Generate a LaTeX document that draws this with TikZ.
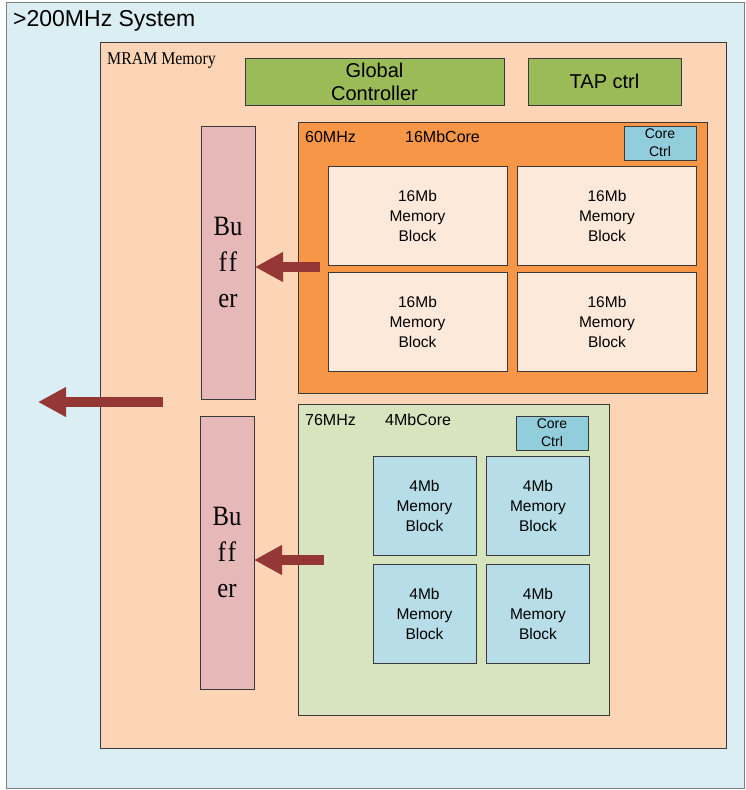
\documentclass[tikz,border=0pt]{standalone}
\usepackage{fontspec}
\setsansfont{Liberation Sans}
\newfontfamily\narrowserif[FakeStretch=0.88]{Liberation Serif}
\usepackage{tikz}
\usetikzlibrary{calc,arrows.meta}
\definecolor{sysbg}{HTML}{DBEEF4}
\definecolor{mrambg}{HTML}{FBD5B5}
\definecolor{ctrlgreen}{HTML}{9BBB59}
\definecolor{coreorange}{HTML}{F79646}
\definecolor{blockpeach}{HTML}{FDE9D9}
\definecolor{corectrl}{HTML}{92CDDC}
\definecolor{coregreen}{HTML}{D7E4BD}
\definecolor{blockblue}{HTML}{B7DEE8}
\definecolor{bufpink}{HTML}{E6B9B8}
\definecolor{arrowred}{HTML}{953735}
\definecolor{edge}{HTML}{3A3A3A}
\tikzset{
  box/.style={draw=edge, line width=0.9pt, inner sep=0pt, outer sep=0pt},
  sysbox/.style={box, draw=gray, fill=sysbg},
  ctrlbox/.style={box, fill=ctrlgreen, align=center, font=\sffamily\fontsize{20}{23}\selectfont},
  bufbox/.style={box, fill=bufpink, align=center, font=\narrowserif\fontsize{28}{36}\selectfont},
  ccbox/.style={box, fill=corectrl, align=center, font=\sffamily\fontsize{14}{18}\selectfont},
  blk/.style={box, align=center, font=\sffamily\fontsize{15.5}{20}\selectfont},
  tag/.style={anchor=west, inner sep=0pt, font=\sffamily\fontsize{16}{18}\selectfont},
  flow/.style={draw=arrowred, line width=10pt, -{Triangle[length=28pt,width=28pt]}},
}
\begin{document}
\begin{tikzpicture}[x=1pt,y=-1pt]
  \useasboundingbox (0,0) rectangle (746,790);

  \node[sysbox, minimum width=738pt, minimum height=786pt] (sys) at (375,395) {};
  \node[anchor=west, inner sep=0pt, font=\sffamily\fontsize{23}{26}\selectfont] (systxt) at (13,21) {>200MHz System};

  \node[box, fill=mrambg, minimum width=626pt, minimum height=706pt] (mram) at (413,395) {};
  \node[anchor=west, inner sep=0pt, font=\narrowserif\fontsize{18}{20}\selectfont] (mramtxt) at (107,60) {MRAM Memory};

  \node[ctrlbox, minimum width=259pt, minimum height=47pt] (glob) at (374.5,81.5) {Global\\Controller};
  \node[ctrlbox, minimum width=153pt, minimum height=47pt] (tap) at (604.5,81.5) {TAP ctrl};

  \node[bufbox, minimum width=54pt, minimum height=273pt] (bufA) at (228,262.5) {Bu\\f\hspace{2pt}f\\er};
  \node[bufbox, minimum width=54pt, minimum height=273pt] (bufB) at (227,552.5) {Bu\\f\hspace{2pt}f\\er};

  % 16Mb core
  \node[box, fill=coreorange, minimum width=409pt, minimum height=271pt] (coreA) at (502.5,257.5) {};
  \node[tag] (freqA) at (305,137) {60MHz};
  \node[tag] (nameA) at (405,137) {16MbCore};
  \node[ccbox, minimum width=72pt, minimum height=34pt] (ccA) at (660,143) {Core\\Ctrl};
  \foreach \i/\x/\y in {1/417.5/215.5, 2/607/215.5, 3/417.5/321.5, 4/607/321.5}
    \node[blk, fill=blockpeach, minimum width=179pt, minimum height=99pt] (bigblk\i) at (\x,\y) {16Mb\\Memory\\Block};

  % 4Mb core
  \node[box, fill=coregreen, minimum width=311pt, minimum height=311pt] (coreB) at (453.5,559.5) {};
  \node[tag] (freqB) at (305,420) {76MHz};
  \node[tag] (nameB) at (385,420) {4MbCore};
  \node[ccbox, minimum width=72pt, minimum height=34pt] (ccB) at (552,433) {Core\\Ctrl};
  \foreach \i/\x/\y in {1/424.5/505.5, 2/538/505.5, 3/424.5/613.5, 4/538/613.5}
    \node[blk, fill=blockblue, minimum width=103pt, minimum height=99pt] (smallblk\i) at (\x,\y) {4Mb\\Memory\\Block};

  % data paths
  \coordinate (srcA) at (320,267);
  \coordinate (srcB) at (324,560);
  \coordinate (outsrc) at (163,402);
  \coordinate (outdst) at (38,402);
  \draw[flow] (srcA) -- (srcA -| bufA.east);
  \draw[flow] (srcB) -- (srcB -| bufB.east);
  \draw[flow] (outsrc) -- (outdst);
\end{tikzpicture}
\end{document}
